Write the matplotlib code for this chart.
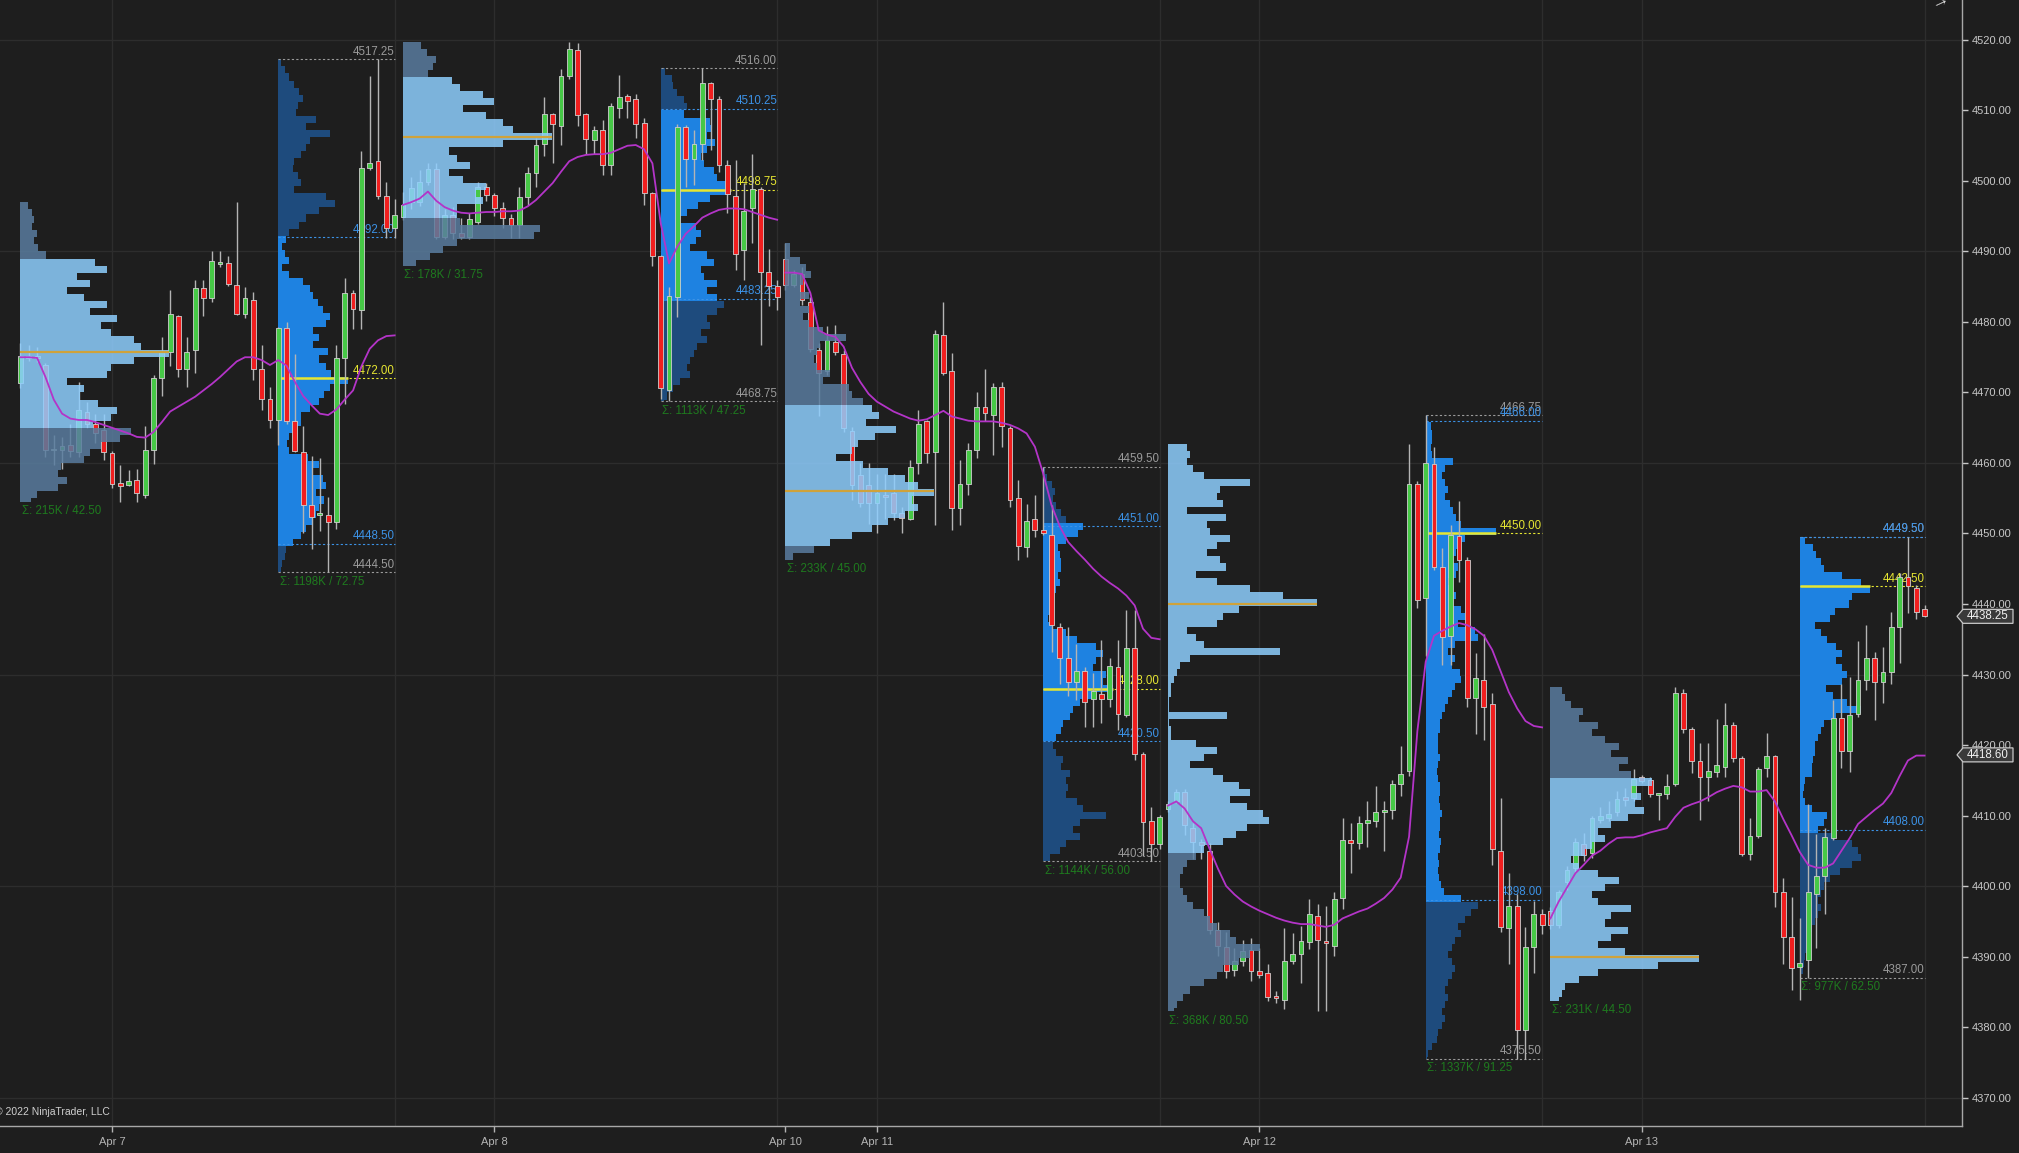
import matplotlib
matplotlib.use("Agg")
import matplotlib.pyplot as plt
from matplotlib.patches import Rectangle, Polygon
from matplotlib.collections import PatchCollection, LineCollection
from matplotlib.transforms import blended_transform_factory

plt.rcParams['font.family'] = ['Liberation Sans', 'DejaVu Sans']

# ---- 30 minute bars, Apr 6 evening .. Apr 13 ----
opens = [
    4471.3, 4475.0, 4475.1, 4473.9, 4461.8, 4461.9, 4462.5, 4461.6, 4467.3, 4465.5,
    4464.7, 4461.4, 4457.1, 4456.9, 4457.6, 4455.5, 4461.9, 4472.1, 4475.8, 4480.8,
    4473.4, 4476.0, 4484.8, 4483.4, 4488.3, 4488.3, 4485.3, 4481.2, 4483.1, 4473.3,
    4469.1, 4466.1, 4479.1, 4466.0, 4461.5, 4454.1, 4452.6, 4452.6, 4451.7, 4474.9,
    4484.1, 4481.7, 4501.9, 4502.9, 4497.8, 4493.4, 4494.9, 4497.0, 4497.0, 4499.9,
    4501.7, 4492.1, 4495.2, 4492.6, 4492.1, 4494.2, 4499.1, 4498.0, 4496.2, 4494.8,
    4493.8, 4497.7, 4501.2, 4505.3, 4509.5, 4507.8, 4514.9, 4518.6, 4509.5, 4505.8,
    4507.2, 4502.2, 4510.4, 4512.0, 4511.6, 4508.2, 4498.3, 4489.4, 4470.4, 4483.6,
    4507.6, 4503.1, 4505.3, 4513.9, 4511.6, 4502.3, 4497.8, 4490.2, 4496.1, 4498.8,
    4487.1, 4485.1, 4488.9, 4485.2, 4486.8, 4482.9, 4476.0, 4473.0, 4477.2, 4475.5,
    4464.6, 4458.3, 4456.9, 4454.3, 4455.5, 4455.7, 4452.9, 4452.1, 4460.0, 4465.9,
    4461.6, 4478.1, 4473.0, 4453.6, 4457.0, 4461.9, 4468.0, 4466.8, 4470.8, 4465.0,
    4455.1, 4448.1, 4452.0, 4450.5, 4449.8, 4436.8, 4432.3, 4429.0, 4430.5, 4426.5,
    4427.3, 4426.5, 4431.0, 4424.3, 4433.7, 4418.7, 4409.2, 4406.0, 4410.9, 4412.0,
    4413.4, 4408.2, 4406.2, 4405.0, 4393.7, 4391.4, 4388.1, 4389.4, 4390.9, 4387.9,
    4387.6, 4384.3, 4383.9, 4389.4, 4390.4, 4392.1, 4395.7, 4392.1, 4391.5, 4398.3,
    4406.5, 4406.1, 4408.9, 4409.2, 4410.5, 4410.8, 4414.5, 4416.3, 4457.0, 4440.8,
    4459.8, 4445.3, 4435.5, 4449.7, 4446.2, 4426.6, 4429.2, 4425.8, 4404.9, 4394.0,
    4397.1, 4379.6, 4391.3, 4396.0, 4396.5, 4394.4, 4400.5, 4402.5, 4405.9, 4404.7,
    4409.3, 4409.6, 4410.5, 4412.6, 4412.5, 4415.4, 4415.1, 4413.0, 4413.0, 4414.5,
    4427.4, 4422.2, 4417.8, 4415.4, 4416.2, 4416.9, 4422.8, 4418.2, 4404.6, 4407.1,
    4416.8, 4418.5, 4399.2, 4392.8, 4388.5, 4389.5, 4398.9, 4401.4, 4406.8, 4423.9,
    4419.1, 4424.4, 4429.2, 4432.3, 4428.9, 4430.4, 4436.8, 4443.8, 4442.2, 4439.3,
]
highs = [
    4477.0, 4476.8, 4476.5, 4474.2, 4464.0, 4463.7, 4465.6, 4471.5, 4468.7, 4467.0,
    4467.0, 4461.7, 4459.7, 4459.0, 4459.2, 4465.2, 4472.5, 4477.8, 4484.5, 4481.0,
    4477.9, 4486.0, 4486.0, 4490.0, 4490.0, 4489.3, 4497.0, 4485.0, 4484.3, 4476.7,
    4470.8, 4479.3, 4480.0, 4475.5, 4465.3, 4461.0, 4460.7, 4455.2, 4476.7, 4486.3,
    4484.5, 4504.2, 4514.9, 4517.25, 4499.8, 4497.5, 4498.5, 4500.5, 4501.5, 4502.6,
    4502.5, 4496.0, 4496.3, 4494.8, 4495.5, 4499.8, 4499.7, 4498.3, 4497.0, 4495.3,
    4499.2, 4502.0, 4506.1, 4511.9, 4509.6, 4515.9, 4519.75, 4519.6, 4509.6, 4507.8,
    4508.6, 4511.0, 4515.0, 4512.4, 4512.4, 4508.9, 4498.5, 4489.5, 4485.0, 4508.1,
    4507.9, 4507.2, 4516.0, 4514.1, 4512.0, 4503.0, 4503.0, 4499.7, 4503.8, 4499.2,
    4490.4, 4485.9, 4491.25, 4487.4, 4487.8, 4483.6, 4477.0, 4479.5, 4479.6, 4476.0,
    4465.1, 4460.0, 4460.0, 4458.5, 4458.5, 4458.5, 4453.8, 4460.4, 4467.5, 4466.1,
    4478.9, 4482.9, 4475.6, 4460.4, 4462.8, 4470.1, 4473.4, 4471.3, 4471.5, 4465.2,
    4457.6, 4454.2, 4455.5, 4459.5, 4454.0, 4437.3, 4436.7, 4434.3, 4431.1, 4430.2,
    4434.9, 4432.3, 4434.9, 4439.1, 4439.1, 4419.0, 4411.2, 4410.1, 4412.0, 4413.8,
    4413.8, 4409.0, 4406.7, 4406.1, 4394.9, 4393.5, 4391.2, 4392.3, 4392.6, 4391.2,
    4389.0, 4385.1, 4394.0, 4393.3, 4394.3, 4398.2, 4397.4, 4397.1, 4399.1, 4409.6,
    4408.9, 4410.0, 4412.1, 4414.2, 4412.0, 4415.0, 4419.8, 4462.75, 4457.4, 4466.75,
    4462.2, 4447.9, 4451.2, 4454.6, 4446.7, 4433.0, 4435.8, 4427.4, 4412.5, 4401.8,
    4398.8, 4394.2, 4397.9, 4396.8, 4397.0, 4399.4, 4402.8, 4406.8, 4407.5, 4410.0,
    4411.2, 4412.0, 4413.5, 4413.9, 4416.6, 4415.7, 4415.4, 4413.2, 4415.9, 4428.25,
    4428.0, 4422.5, 4420.3, 4420.3, 4423.7, 4425.9, 4423.3, 4418.4, 4409.6, 4416.9,
    4421.7, 4418.6, 4401.1, 4398.5, 4395.4, 4411.7, 4407.4, 4408.2, 4426.4, 4428.7,
    4429.7, 4434.7, 4437.0, 4433.2, 4433.9, 4438.8, 4444.4, 4449.5, 4442.7, 4439.9,
]
lows = [
    4470.6, 4474.5, 4474.3, 4460.9, 4459.7, 4459.2, 4460.9, 4460.9, 4464.9, 4462.8,
    4460.4, 4456.5, 4454.5, 4456.7, 4454.4, 4455.0, 4459.9, 4469.5, 4473.7, 4472.2,
    4470.8, 4472.7, 4480.8, 4482.9, 4487.8, 4485.1, 4481.0, 4480.5, 4471.8, 4467.5,
    4464.9, 4462.6, 4465.5, 4461.5, 4450.1, 4447.8, 4450.3, 4444.5, 4450.6, 4468.3,
    4479.0, 4479.0, 4501.5, 4497.5, 4491.9, 4491.9, 4494.5, 4496.0, 4496.5, 4499.5,
    4491.8, 4491.8, 4491.8, 4491.7, 4491.8, 4493.9, 4497.2, 4495.0, 4493.3, 4491.9,
    4491.9, 4496.6, 4499.2, 4503.5, 4502.5, 4505.1, 4514.4, 4507.8, 4503.8, 4503.8,
    4500.9, 4500.9, 4508.9, 4508.9, 4506.1, 4496.6, 4488.0, 4469.1, 4468.75, 4480.7,
    4499.2, 4499.4, 4503.0, 4504.4, 4501.3, 4495.4, 4487.4, 4485.9, 4491.2, 4476.7,
    4482.2, 4481.7, 4484.5, 4484.9, 4482.4, 4475.8, 4466.6, 4472.5, 4475.3, 4464.4,
    4454.7, 4453.8, 4451.4, 4450.0, 4452.0, 4451.9, 4450.0, 4451.9, 4458.5, 4460.0,
    4451.2, 4472.5, 4450.5, 4451.2, 4455.5, 4460.7, 4465.9, 4461.1, 4462.3, 4453.8,
    4446.25, 4446.7, 4449.5, 4449.8, 4433.2, 4428.7, 4426.9, 4426.4, 4422.6, 4422.6,
    4423.1, 4425.4, 4422.1, 4424.0, 4417.9, 4404.2, 4403.5, 4405.3, 4410.5, 4411.8,
    4407.2, 4403.9, 4403.9, 4393.2, 4390.1, 4387.0, 4387.3, 4388.7, 4386.5, 4387.0,
    4383.7, 4383.4, 4382.5, 4389.0, 4386.2, 4391.0, 4382.25, 4382.3, 4390.1, 4396.8,
    4401.9, 4405.2, 4405.5, 4408.3, 4405.0, 4409.5, 4412.8, 4415.6, 4439.5, 4432.6,
    4444.8, 4431.3, 4431.3, 4443.1, 4425.4, 4421.5, 4420.7, 4403.0, 4393.5, 4389.0,
    4375.5, 4375.5, 4387.7, 4393.2, 4393.9, 4394.0, 4399.5, 4401.8, 4403.5, 4404.0,
    4409.0, 4409.2, 4410.0, 4411.4, 4412.0, 4414.6, 4412.6, 4409.3, 4412.4, 4414.2,
    4421.7, 4416.0, 4409.3, 4412.0, 4415.5, 4415.4, 4417.6, 4404.3, 4403.7, 4406.8,
    4415.4, 4397.0, 4389.0, 4385.2, 4383.8, 4387.0, 4391.2, 4396.1, 4406.5, 4416.7,
    4416.2, 4424.0, 4427.8, 4423.6, 4425.9, 4428.7, 4431.6, 4438.7, 4437.9, 4438.2,
]
closes = [
    4475.2, 4475.1, 4474.9, 4461.8, 4462.0, 4462.4, 4461.7, 4467.5, 4465.6, 4464.2,
    4461.6, 4457.0, 4456.8, 4457.4, 4455.7, 4461.9, 4472.1, 4475.8, 4481.1, 4473.4,
    4475.8, 4484.8, 4483.4, 4488.6, 4488.4, 4485.4, 4481.2, 4483.4, 4473.4, 4469.1,
    4466.1, 4479.1, 4466.0, 4461.7, 4454.1, 4452.4, 4452.9, 4451.7, 4474.9, 4484.1,
    4481.8, 4501.9, 4502.6, 4497.8, 4493.4, 4495.2, 4496.6, 4499.0, 4499.9, 4501.7,
    4492.1, 4495.2, 4492.6, 4492.1, 4494.6, 4499.1, 4498.0, 4496.2, 4494.7, 4493.7,
    4497.7, 4501.2, 4505.1, 4509.5, 4508.1, 4514.9, 4518.7, 4509.4, 4505.9, 4507.2,
    4502.3, 4510.7, 4511.9, 4511.4, 4508.1, 4498.3, 4489.4, 4470.6, 4483.7, 4507.6,
    4503.1, 4505.3, 4513.9, 4511.6, 4502.3, 4498.2, 4489.7, 4495.8, 4498.8, 4487.1,
    4485.1, 4483.5, 4485.2, 4486.8, 4483.1, 4476.1, 4472.8, 4477.5, 4475.8, 4464.9,
    4456.9, 4454.3, 4454.3, 4455.7, 4455.2, 4452.9, 4452.2, 4459.5, 4465.5, 4461.4,
    4478.3, 4472.7, 4453.6, 4457.0, 4461.9, 4468.0, 4467.1, 4470.8, 4465.2, 4454.7,
    4448.2, 4451.8, 4450.5, 4450.0, 4437.0, 4432.4, 4429.0, 4430.5, 4426.1, 4427.6,
    4426.5, 4431.2, 4424.4, 4433.7, 4418.7, 4409.1, 4406.0, 4409.8, 4411.7, 4413.4,
    4408.6, 4406.2, 4405.8, 4393.7, 4391.5, 4388.0, 4389.4, 4390.8, 4387.9, 4387.4,
    4384.2, 4384.2, 4389.4, 4390.3, 4392.2, 4396.0, 4392.4, 4392.0, 4398.2, 4406.5,
    4406.1, 4409.0, 4409.3, 4410.5, 4410.8, 4414.5, 4415.9, 4457.0, 4440.6, 4460.0,
    4445.3, 4435.3, 4449.8, 4446.2, 4426.6, 4429.5, 4425.4, 4405.2, 4394.2, 4397.1,
    4379.6, 4391.3, 4396.0, 4394.4, 4394.4, 4399.1, 4402.2, 4406.2, 4404.4, 4409.6,
    4409.9, 4410.2, 4412.3, 4412.2, 4415.2, 4414.9, 4413.0, 4413.0, 4414.2, 4427.4,
    4422.2, 4417.8, 4415.4, 4416.3, 4417.1, 4422.9, 4418.2, 4404.6, 4407.1, 4416.6,
    4418.5, 4399.1, 4392.8, 4388.3, 4389.1, 4399.2, 4401.4, 4406.9, 4423.9, 4419.1,
    4424.2, 4429.2, 4432.3, 4428.9, 4430.4, 4436.8, 4443.8, 4442.5, 4438.9, 4438.25,
]

# ---- session VWAP (magenta), one list per trading day ----
vwap_starts = [0, 46, 92, 138, 184]
vwap_a = [4475.0, 4475.0, 4474.9, 4472.2, 4469.0, 4467.0, 4466.3, 4466.1, 4466.1, 4465.8,
          4465.4, 4465.0, 4464.6, 4464.2, 4463.7, 4463.6, 4464.4, 4465.8, 4467.3, 4468.0,
          4468.7, 4469.4, 4470.3, 4471.2, 4472.2, 4473.3, 4474.4, 4475.0, 4475.0, 4474.6,
          4473.9, 4474.6, 4473.8, 4471.5, 4469.5, 4468.2, 4467.0, 4466.8, 4467.6, 4469.0,
          4470.3, 4473.7, 4476.2, 4477.4, 4478.0, 4478.1]
vwap_b = [4496.6, 4497.0, 4497.5, 4498.5, 4497.2, 4496.3, 4495.8, 4495.5, 4495.4, 4495.5,
          4495.6, 4495.6, 4495.7, 4495.7, 4495.8, 4496.4, 4497.3, 4498.5, 4499.7, 4501.3,
          4502.8, 4503.4, 4503.7, 4503.8, 4503.8, 4504.0, 4504.5, 4505.0, 4505.1, 4504.5,
          4502.5, 4494.0, 4488.3, 4490.7, 4492.5, 4493.6, 4494.8, 4495.4, 4495.9, 4496.1,
          4496.1, 4496.0, 4495.6, 4495.2, 4494.8, 4494.5]
vwap_c = [4487.0, 4487.0, 4486.8, 4484.1, 4478.8, 4478.2, 4477.9, 4476.5, 4473.5, 4471.5,
          4469.8, 4468.7, 4468.0, 4467.3, 4466.8, 4466.3, 4466.0, 4466.2, 4466.8, 4467.4,
          4466.6, 4466.3, 4466.0, 4465.9, 4465.9, 4465.9, 4465.7, 4465.4, 4464.9, 4464.2,
          4462.3, 4458.5, 4454.0, 4451.0, 4448.8, 4447.5, 4446.3, 4445.0, 4443.9, 4443.0,
          4442.2, 4441.2, 4439.8, 4436.5, 4435.2, 4435.0]
vwap_d = [4411.4, 4412.0, 4411.0, 4409.2, 4408.2, 4405.3, 4402.5, 4400.0, 4398.8, 4397.8,
          4397.1, 4396.5, 4396.0, 4395.5, 4395.1, 4394.8, 4394.6, 4394.6, 4394.4, 4394.2,
          4394.5, 4395.4, 4395.9, 4396.4, 4396.8, 4397.5, 4398.3, 4399.5, 4401.2, 4407.0,
          4422.0, 4431.8, 4435.5, 4436.2, 4436.8, 4437.3, 4437.0, 4436.4, 4435.5, 4433.5,
          4430.5, 4427.5, 4425.2, 4423.4, 4422.7, 4422.5]
vwap_e = [4395.4, 4397.8, 4399.8, 4401.8, 4403.0, 4404.3, 4405.0, 4406.0, 4406.8, 4406.9,
          4406.9, 4407.2, 4407.6, 4407.9, 4408.2, 4409.8, 4411.1, 4411.6, 4412.0, 4412.6,
          4413.3, 4413.8, 4414.2, 4414.0, 4413.4, 4413.4, 4413.6, 4412.0, 4409.5, 4407.2,
          4404.8, 4403.0, 4402.6, 4402.6, 4403.2, 4405.0, 4406.8, 4408.8, 4409.8, 4410.8,
          4411.7, 4413.2, 4415.6, 4417.8, 4418.5, 4418.5]

# ---- session volume profiles (row widths in % of the session max, 1 pt rows from the top) ----
p1_vol = [5, 8, 9, 8, 11, 9, 12, 17, 50, 58, 38, 47, 31, 43, 58, 47, 65, 54, 61, 76,
          81, 100, 76, 61, 58, 31, 43, 40, 52, 65, 61, 49, 74, 67, 54, 47, 43, 27, 25, 31,
          25, 11, 7]
p2_vol = [4, 9, 16, 23, 30, 35, 28, 25, 54, 40, 74, 45, 40, 33, 23, 21, 28, 33, 23, 69,
          81, 59, 40, 30, 16, 11, 6, 9, 16, 6, 16, 35, 45, 50, 57, 64, 74, 69, 50, 59,
          50, 71, 59, 69, 76, 100, 74, 66, 59, 45, 33, 33, 25, 16, 13, 16, 42, 59, 50, 64,
          69, 54, 66, 59, 54, 50, 40, 33, 21, 11, 9, 6, 4]
p3_vol = [12, 16, 22, 20, 17, 33, 38, 54, 61, 40, 56, 67, 74, 100, 67, 31, 36, 45, 31, 40,
          56, 49, 54, 36, 36, 38, 92, 88, 36, 27, 18, 9]
p4_vol = [6, 16, 18, 23, 33, 38, 33, 71, 74, 66, 78, 66, 57, 62, 76, 81, 95, 100, 71, 54,
          38, 28, 50, 57, 50, 42, 66, 76, 57, 62, 81, 66, 81, 90, 81, 66, 71, 57, 66, 52,
          47, 42, 38, 42, 28, 18, 9, 4]
p5_vol = [3, 3, 10, 14, 17, 12, 10, 16, 10, 16, 12, 16, 25, 41, 23, 21, 19, 21, 30, 25,
          43, 45, 52, 58, 63, 54, 74, 60, 49, 45, 34, 52, 69, 80, 89, 100, 85, 89, 80, 69,
          58, 45, 30, 19, 5]
p6_vol = [2, 5, 12, 17, 14, 19, 26, 33, 57, 50, 33, 21, 24, 26, 26, 21, 24, 19, 14, 12,
          10, 7, 12, 33, 48, 76, 86, 76, 71, 90, 86, 100, 76, 52, 43, 38, 29, 26, 19, 14,
          19, 29, 26, 38, 33, 36, 33, 48, 57, 90, 52, 43, 52, 33, 24, 10]
p7_vol = [13, 15, 13, 17, 24, 55, 35, 33, 37, 13, 39, 26, 28, 42, 33, 26, 35, 39, 19, 33,
          55, 77, 100, 48, 37, 33, 13, 19, 24, 75, 15, 8, 6, 4, 2, 2, 1, 1, 40, 1,
          2, 2, 19, 33, 24, 15, 30, 37, 48, 55, 42, 53, 64, 68, 53, 46, 37, 24, 19, 13,
          10, 8, 8, 10, 13, 17, 24, 28, 33, 42, 46, 62, 55, 48, 37, 33, 24, 15, 10, 6,
          4]
p8_vol = [4, 7, 9, 9, 7, 9, 39, 28, 23, 28, 32, 28, 35, 39, 44, 51, 100, 56, 51, 44,
          39, 46, 44, 32, 37, 44, 39, 51, 56, 46, 70, 75, 42, 32, 42, 37, 49, 51, 42, 37,
          32, 28, 24, 21, 20, 18, 17, 18, 20, 18, 16, 18, 20, 21, 19, 21, 23, 20, 21, 19,
          22, 20, 18, 19, 17, 19, 22, 26, 51, 75, 65, 56, 46, 51, 42, 37, 32, 37, 42, 37,
          32, 28, 32, 28, 23, 28, 23, 18, 16, 9, 4, 2]
p9_vol = [8, 10, 14, 22, 19, 32, 28, 37, 46, 41, 52, 46, 54, 68, 54, 61, 57, 63, 52, 41,
          32, 37, 28, 23, 14, 19, 32, 46, 37, 28, 32, 54, 41, 37, 52, 41, 32, 50, 100, 72,
          32, 19, 10, 8, 6]
p10_vol = [8, 19, 23, 30, 35, 61, 88, 100, 74, 70, 50, 43, 21, 30, 39, 52, 61, 52, 61, 68,
           61, 37, 48, 68, 88, 52, 35, 30, 26, 21, 21, 19, 17, 17, 8, 6, 4, 8, 17, 39,
           35, 26, 50, 74, 83, 88, 74, 57, 43, 35, 30, 26, 30, 26, 21, 17, 15, 12, 10, 8,
           6, 4, 2]
profile_vols = [p1_vol, p2_vol, p3_vol, p4_vol, p5_vol, p6_vol, p7_vol, p8_vol, p9_vol, p10_vol]
profile_kind = ['eth', 'rth', 'eth', 'rth', 'eth', 'rth', 'eth', 'rth', 'eth', 'rth']
profile_start = [0, 31, 46, 77, 92, 123, 138, 169, 184, 214]
profile_end = [30, 45, 76, 91, 122, 137, 168, 183, 213, 229]
profile_high = [4497.00, 4517.25, 4519.75, 4516.00, 4491.25, 4459.50, 4462.75, 4466.75, 4428.25, 4449.50]
profile_low = [4454.50, 4444.50, 4488.00, 4468.75, 4446.25, 4403.50, 4382.25, 4375.50, 4383.75, 4387.00]
profile_vah = [4489.25, 4492.00, 4514.30, 4510.25, 4468.00, 4451.00, 4462.75, 4466.00, 4415.00, 4449.50]
profile_val = [4465.50, 4448.50, 4494.50, 4483.25, 4448.50, 4420.50, 4405.25, 4398.00, 4383.75, 4408.00]
profile_poc = [4475.75, 4472.00, 4506.25, 4498.75, 4456.00, 4428.00, 4440.00, 4450.00, 4390.00, 4442.50]
profile_volume = ['215K', '1198K', '178K', '1113K', '233K', '1144K', '368K', '1337K', '231K', '977K']

day_ticks = [11, 57, 92, 103, 149, 195]
day_labels = ['Apr 7', 'Apr 8', 'Apr 10', 'Apr 11', 'Apr 12', 'Apr 13']
session_lines = [11, 45, 57, 91, 103, 137, 149, 183, 195, 229]
last_price = 4438.25
last_vwap = 4418.60

# ---- styling ----
BG = '#1e1e1e'
GRID = '#2d2d2d'
UP = '#46c846'
DOWN = '#f01e1e'
WICK = '#b4b4b4'
ETH_IN, ETH_OUT = '#8ecefe', '#597c9f'
RTH_IN, RTH_OUT = '#1e82e1', '#1e4b7d'
GOLD, YELLOW = '#cfa23a', '#e6e632'
LBL_GRAY, LBL_BLUE, LBL_GREEN = '#9a9a9a', '#3c92e6', '#1f7a1f'
ETH_W, RTH_W = 17.9, 8.4
BODY = 0.58
FS = 8.3


def draw_candles(ax):
    wicks = [[(i, lo), (i, hi)] for i, (hi, lo) in enumerate(zip(highs, lows))]
    ax.add_collection(LineCollection(wicks, colors=WICK, linewidths=1.0, zorder=2))
    bodies, colors = [], []
    for i, (o, c) in enumerate(zip(opens, closes)):
        lo, hi = min(o, c), max(o, c)
        if hi - lo < 0.25:
            mid = (hi + lo) / 2
            lo, hi = mid - 0.125, mid + 0.125
        bodies.append(Rectangle((i - BODY / 2, lo), BODY, hi - lo))
        colors.append(UP if c >= o else DOWN)
    ax.add_collection(PatchCollection(bodies, facecolors=colors, edgecolors='#cfcfcf',
                                      linewidths=0.6, zorder=2.1))


def draw_vwap(ax):
    for start, seg in zip(vwap_starts, [vwap_a, vwap_b, vwap_c, vwap_d, vwap_e]):
        xs = list(range(start, start + len(seg)))
        ax.plot(xs, seg, color='#b434c8', lw=1.3, zorder=4, solid_joinstyle='round')


def draw_profile(ax, k):
    vols = profile_vols[k]
    eth = profile_kind[k] == 'eth'
    x0 = profile_start[k]
    maxw = ETH_W if eth else RTH_W
    top, low = profile_high[k], profile_low[k]
    vah, val, poc = profile_vah[k], profile_val[k], profile_poc[k]
    inside, outside = [], []
    for r, v in enumerate(vols):
        y1 = top - r
        y0 = max(top - r - 1, low)
        rect = Rectangle((x0, y0), v / 100 * maxw, y1 - y0)
        (inside if val <= (y0 + y1) / 2 <= vah else outside).append(rect)
    if eth:
        style = dict(alpha=0.85, zorder=3, linewidths=0)
        c_in, c_out = ETH_IN, ETH_OUT
    else:
        style = dict(alpha=1.0, zorder=1, linewidths=0)
        c_in, c_out = RTH_IN, RTH_OUT
    ax.add_collection(PatchCollection(inside, facecolors=c_in, **style))
    ax.add_collection(PatchCollection(outside, facecolors=c_out, **style))

    if eth:
        ax.plot([x0, x0 + maxw], [poc, poc], color=GOLD, lw=1.6, zorder=3.5,
                solid_capstyle='butt')
    else:
        x1 = profile_end[k]
        ax.plot([x0, x0 + maxw], [poc, poc], color=YELLOW, lw=1.8, zorder=1.5,
                solid_capstyle='butt')
        levels = [(top, LBL_GRAY), (low, LBL_GRAY), (vah, LBL_BLUE), (val, LBL_BLUE), (poc, YELLOW)]
        for lvl, col in levels:
            ax.plot([x0, x1], [lvl, lvl], color=col, lw=0.8, ls=(0, (2, 2)), zorder=1.4)
            ax.annotate(f'{lvl:.2f}', (x1, lvl), xytext=(0, 1.2), textcoords='offset points',
                        ha='right', va='bottom', color=col, fontsize=FS, zorder=1.6)
    ax.annotate(f'\u03a3: {profile_volume[k]} / {top - low:.2f}', (x0, low),
                xytext=(1, -2.5), textcoords='offset points', ha='left', va='top',
                color=LBL_GREEN, fontsize=FS, zorder=3.6)


def price_tag(ax, y, txt):
    trans = blended_transform_factory(ax.transAxes, ax.transData)
    px = 1 / 1962.0
    h = 7 / 7.05
    pts = [(1 - 5 * px, y), (1 + 1 * px, y + h), (1 + 51 * px, y + h),
           (1 + 51 * px, y - h), (1 + 1 * px, y - h)]
    ax.add_patch(Polygon(pts, closed=True, transform=trans, fc='#3a3a3a', ec='#c8c8c8',
                         lw=0.9, clip_on=False, zorder=10))
    ax.text(1 + 26 * px, y, txt, transform=trans, ha='center', va='center',
            color='#f0f0f0', fontsize=8.3, clip_on=False, zorder=11)


fig = plt.figure(figsize=(20.19, 11.53), dpi=100, facecolor=BG)
ax = fig.add_axes([0, 1 - 1126 / 1153, 1962 / 2019, 1126 / 1153], facecolor=BG)
ax.set_xlim(-2.465, 233.5)
ax.set_ylim(4365.96, 4525.67)

for y in range(4370, 4521, 30):
    ax.axhline(y, color=GRID, lw=1, zorder=0)
for x in session_lines:
    ax.axvline(x, color=GRID, lw=1, zorder=0)

for k in range(len(profile_vols)):
    draw_profile(ax, k)
draw_candles(ax)
draw_vwap(ax)

# axes styling
for side in ['top', 'left']:
    ax.spines[side].set_visible(False)
for side in ['right', 'bottom']:
    ax.spines[side].set_color('#a8a8a8')
    ax.spines[side].set_linewidth(1.0)
ax.yaxis.tick_right()
yt = list(range(4370, 4521, 10))
ax.set_yticks(yt)
ax.set_yticklabels([f'{v:.2f}' for v in yt])
ax.tick_params(axis='y', colors='#c8c8c8', labelsize=8, length=4, width=1, pad=3)
ax.set_xticks(day_ticks)
ax.set_xticklabels(day_labels)
ax.tick_params(axis='x', colors='#b4b4b4', labelsize=8, length=4, width=1, pad=4)

price_tag(ax, last_price, f'{last_price:.2f}')
price_tag(ax, last_vwap, f'{last_vwap:.2f}')

fig.text(-5 / 2019, 1 - 1112 / 1153, '\u00a9 2022 NinjaTrader, LLC', color='#cfcfcf',
         fontsize=7.5, va='center', ha='left')
fig.text(1940 / 2019, 1 - 1 / 1153, '\u2192', color='#dcdcdc', fontsize=13,
         va='center', ha='center', rotation=25)

fig.savefig('out.png', dpi=100, facecolor=BG)
